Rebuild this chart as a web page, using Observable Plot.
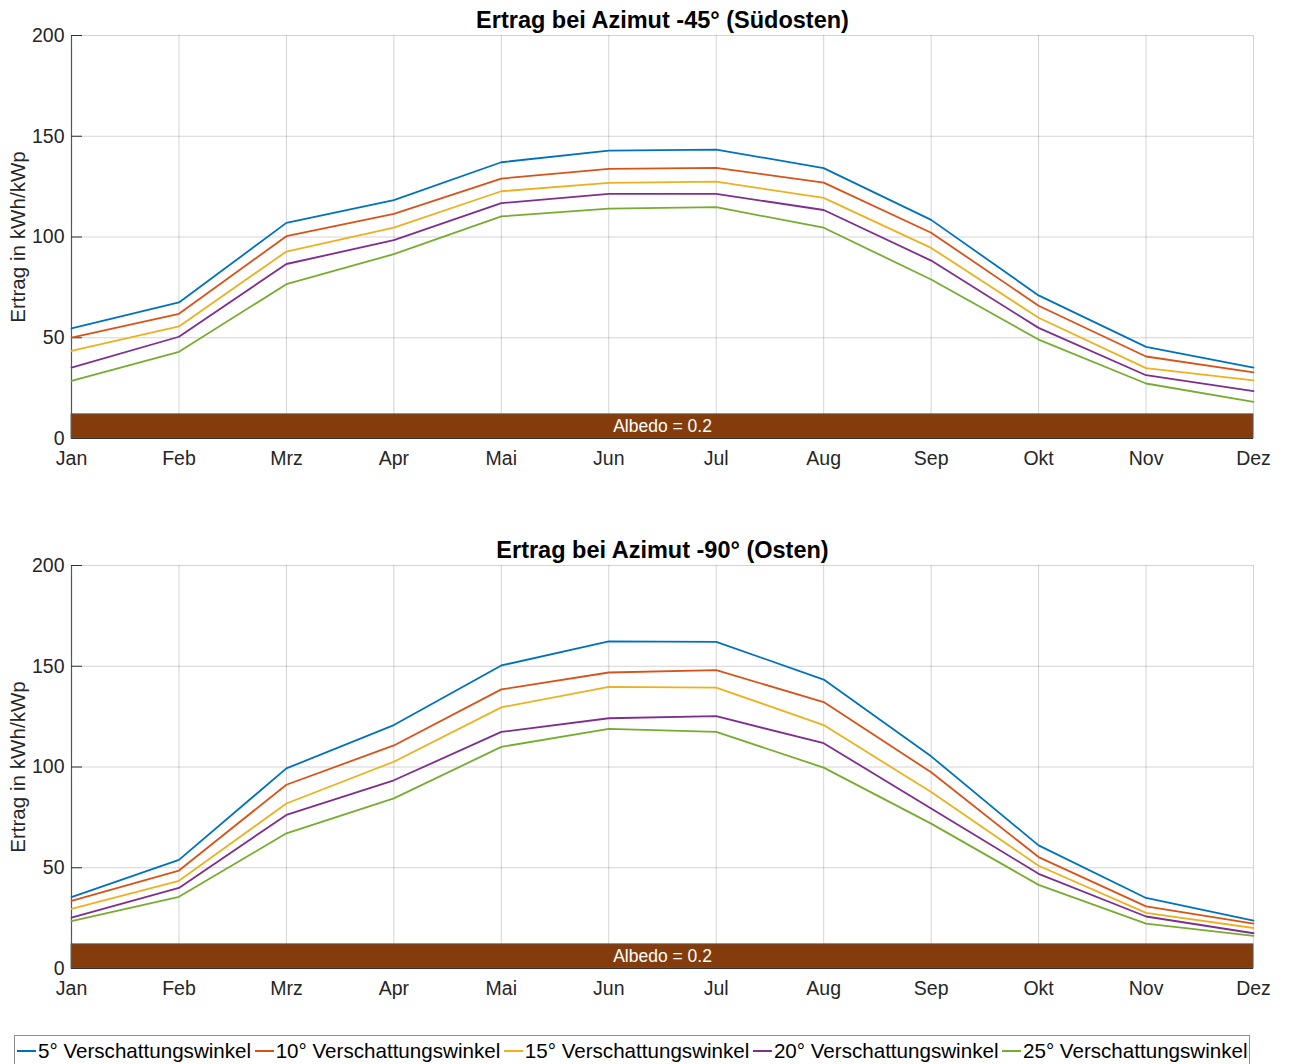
<!DOCTYPE html>
<html>
<head>
<meta charset="utf-8">
<script src="https://cdn.jsdelivr.net/npm/d3@7"></script>
<script src="https://cdn.jsdelivr.net/npm/@observablehq/plot@0.6"></script>
<style>
  html, body { margin: 0; padding: 0; background: #fff; }
  body { width: 1290px; height: 1064px; overflow: hidden; position: relative; font-family: "Liberation Sans", Arial, sans-serif; }
  #charts svg { display: block; }
  #legend { position: absolute; left: 14px; top: 1035px; height: 30px; border: 1px solid #8c8c8c; background: #fff;
    display: flex; align-items: center; font-size: 20.6px; color: #000; white-space: nowrap; padding-right: 1px; }
  #legend .item { display: flex; align-items: center; }
  #legend .sw { display: inline-block; width: 19px; height: 2px; margin: 0 2px 0 3.5px; }
  #legend .item:first-child .sw { margin-left: 2px; }
</style>
</head>
<body>
<div id="charts"></div>
<div id="legend"></div>
<script>
const months = ["Jan","Feb","Mrz","Apr","Mai","Jun","Jul","Aug","Sep","Okt","Nov","Dez"];
const shadeAngles = [5, 10, 15, 20, 25];
const seriesColors = ["#0072BD", "#D95319", "#EDB120", "#7E2F8E", "#77AC30"];
const yTicks = [0, 50, 100, 150, 200];
const albedoValue = 0.2;
const groundHeight = 12;

// Azimut -45° (Südosten)
const suedost5  = [54.6, 67.5, 107.0, 118.3, 137.1, 142.9, 143.4, 134.2, 108.5, 71.0, 45.5, 35.2];
const suedost10 = [50.1, 61.9, 100.4, 111.5, 129.0, 133.8, 134.3, 127.0, 102.1, 65.9, 40.7, 32.8];
const suedost15 = [43.5, 55.6, 92.8, 104.7, 122.7, 126.9, 127.5, 119.4, 94.6, 59.9, 34.9, 28.8];
const suedost20 = [35.2, 50.5, 86.6, 98.4, 116.8, 121.4, 121.4, 113.4, 88.3, 54.9, 31.4, 23.5];
const suedost25 = [28.6, 43.0, 76.6, 91.5, 110.2, 114.1, 114.8, 104.6, 78.9, 49.1, 27.3, 18.2];

// Azimut -90° (Osten)
const osten5  = [35.4, 53.9, 99.3, 120.8, 150.4, 162.3, 162.1, 143.4, 105.3, 61.1, 35.0, 23.8];
const osten10 = [33.6, 48.6, 91.2, 110.7, 138.5, 146.9, 148.1, 132.2, 97.4, 55.3, 30.8, 22.3];
const osten15 = [29.6, 43.5, 81.9, 102.6, 129.6, 139.8, 139.4, 120.8, 87.6, 51.0, 27.6, 20.1];
const osten20 = [25.2, 40.0, 76.2, 93.4, 117.4, 124.2, 125.2, 111.8, 79.4, 47.0, 25.8, 17.5];
const osten25 = [23.5, 35.6, 67.1, 84.4, 110.0, 118.9, 117.4, 99.7, 71.9, 41.5, 22.3, 16.2];

const panels = [
  { title: "Ertrag bei Azimut -45° (Südosten)", series: [suedost5, suedost10, suedost15, suedost20, suedost25], height: 530, marginBottom: 92 },
  { title: "Ertrag bei Azimut -90° (Osten)", series: [osten5, osten10, osten15, osten20, osten25], height: 500, marginBottom: 62 }
];

const FONT = '"Liberation Sans", Arial, sans-serif';
const mIdx = d3.range(months.length);

function makePanel(p) {
  const lineMarks = p.series.map((vals, si) =>
    Plot.line(mIdx.map(i => ({m: i, v: vals[i]})), {x: "m", y: "v", stroke: seriesColors[si], strokeWidth: 1.8})
  );
  return Plot.plot({
    width: 1290,
    height: p.height,
    marginLeft: 71,
    marginRight: 37,
    marginTop: 35,
    marginBottom: p.marginBottom,
    style: {fontFamily: FONT, background: "#fff", overflow: "visible"},
    x: {domain: [0, months.length - 1], axis: null},
    y: {domain: [0, 200], axis: null},
    marks: [
      Plot.gridX(mIdx, {x: d => d, stroke: "#262626", strokeOpacity: 0.2, strokeWidth: 1}),
      Plot.gridY(yTicks, {y: d => d, stroke: "#262626", strokeOpacity: 0.2, strokeWidth: 1}),
      Plot.rect([{x1: 0, x2: months.length - 1, y1: 0, y2: groundHeight}], {x1: "x1", x2: "x2", y1: "y1", y2: "y2", fill: "#843C0C", stroke: "#5a5a5a", strokeWidth: 0.8}),
      Plot.text([`Albedo = ${albedoValue}`], {x: (months.length - 1) / 2, y: groundHeight / 2, text: d => d, fill: "#fff", fontSize: 17.5}),
      Plot.ruleX([0], {stroke: "#555", strokeWidth: 1.2}),
      Plot.ruleY([0], {stroke: "#333", strokeWidth: 1.2}),
      Plot.axisY(yTicks, {tickSize: 0, tickPadding: 7, fontSize: 19.5, fill: "#262626", label: null, anchor: "left"}),
      Plot.axisY(yTicks, {tickSize: -11, tickFormat: () => "", stroke: "#333", label: null, anchor: "left"}),
      Plot.axisX(mIdx, {tickSize: 0, tickPadding: 13, fontSize: 19.5, fill: "#262626", tickFormat: i => months[i], label: null, anchor: "bottom"}),
      ...lineMarks,
      Plot.text([p.title], {frameAnchor: "top", lineAnchor: "middle", dy: -15, text: d => d, fontSize: 23.5, fontWeight: "bold", fill: "#000"}),
      Plot.text(["Ertrag in kWh/kWp"], {frameAnchor: "left", textAnchor: "middle", lineAnchor: "middle", dx: -53, rotate: -90, text: d => d, fontSize: 20.6, fill: "#262626"})
    ]
  });
}

const charts = document.getElementById("charts");
panels.forEach(p => charts.appendChild(makePanel(p)));

const legend = document.getElementById("legend");
shadeAngles.forEach((a, i) => {
  const item = document.createElement("span");
  item.className = "item";
  const sw = document.createElement("span");
  sw.className = "sw";
  sw.style.background = seriesColors[i];
  const label = document.createElement("span");
  label.textContent = `${a}° Verschattungswinkel`;
  item.appendChild(sw);
  item.appendChild(label);
  legend.appendChild(item);
});
</script>
</body>
</html>
